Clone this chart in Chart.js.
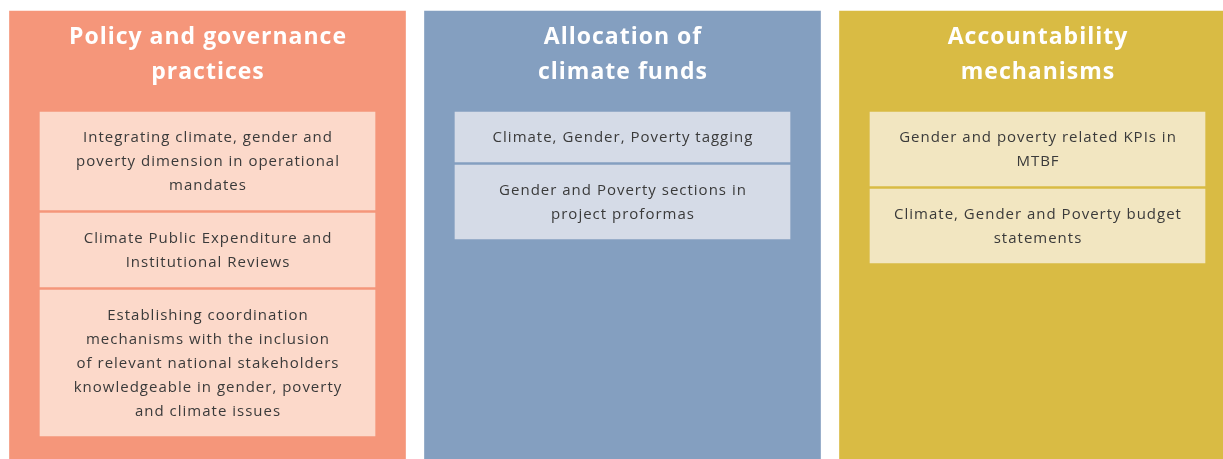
<!DOCTYPE html>
<html>
<head>
<meta charset="utf-8">
<script src="https://cdn.jsdelivr.net/npm/chart.js@4.4.1/dist/chart.umd.min.js"></script>
<style>
    html, body { margin: 0; padding: 0; background: #ffffff; overflow: hidden; }
    #wrap { width: 1245px; height: 459px; position: relative; }
</style>
</head>
<body>
<div id="wrap"><canvas id="frameChart"></canvas></div>
<script>
// pillars (columns) and the items listed under each one
const pillarTitles = [
    ["Policy and governance", "practices"],
    ["Allocation of", "climate funds"],
    ["Accountability", "mechanisms"]
];
const pillarItems = [
    [
        ["Integrating climate, gender and", "poverty dimension in operational", "mandates"],
        ["Climate Public Expenditure and", "Institutional Reviews"],
        ["Establishing coordination", "mechanisms with the inclusion", "of relevant national stakeholders", "knowledgeable in gender, poverty", "and climate issues"]
    ],
    [
        ["Climate, Gender, Poverty tagging"],
        ["Gender and Poverty sections in", "project proformas"]
    ],
    [
        ["Gender and poverty related KPIs in", "MTBF"],
        ["Climate, Gender and Poverty budget", "statements"]
    ]
];
const pillarColors = ["#f5967a", "#849fc0", "#d9bb44"];
const itemColors = ["#fcd9ca", "#d5dbe7", "#f2e6c1"];

const panelTop = 11;
const panelBottom = 460;
const itemsTop = 112;
const lineH = 24;
const boxPad = 26;
const boxGap = 3;

document.addEventListener("DOMContentLoaded", function()
{
    const labels = pillarTitles.map(function(t) { return t.join(" "); });

    // panel rectangles
    const datasets = [
        {
            label: "panel",
            data: labels.map(function() { return [panelTop, panelBottom]; }),
            backgroundColor: pillarColors,
            barThickness: 396,
            grouped: false,
            order: 2
        }
    ];

    // item boxes stacked downward, height from number of text lines
    const maxItems = Math.max.apply(null, pillarItems.map(function(p) { return p.length; }));
    const boxRanges = pillarItems.map(function(items)
    {
        let y = itemsTop;
        return items.map(function(lines)
        {
            const h = lines.length * lineH + boxPad;
            const r = [y, y + h];
            y += h + boxGap;
            return r;
        });
    });
    for (let k = 0; k < maxItems; k++)
    {
        datasets.push({
            label: "item" + k,
            data: boxRanges.map(function(r) { return r[k] || null; }),
            backgroundColor: itemColors,
            barThickness: 335,
            grouped: false,
            order: 1
        });
    }

    const textPlugin = {
        id: "panelText",
        afterDatasetsDraw: function(chart)
        {
            const ctx = chart.ctx;
            ctx.save();
            ctx.textAlign = "center";
            ctx.textBaseline = "alphabetic";

            const panelMeta = chart.getDatasetMeta(0);
            panelMeta.data.forEach(function(el, i)
            {
                const top = Math.min(el.y, el.base);
                ctx.fillStyle = "#ffffff";
                ctx.font = "bold 23px 'Open Sans', sans-serif";
                ctx.letterSpacing = "1px";
                pillarTitles[i].forEach(function(line, j)
                {
                    ctx.fillText(line, el.x + 0.5, top + 33 + j * 35);
                });
            });

            ctx.fillStyle = "#3a3a3a";
            ctx.font = "15px 'Open Sans', sans-serif";
            ctx.letterSpacing = "1px";
            for (let k = 0; k < maxItems; k++)
            {
                const meta = chart.getDatasetMeta(k + 1);
                meta.data.forEach(function(el, i)
                {
                    const lines = pillarItems[i][k];
                    if (!lines) return;
                    const top = Math.min(el.y, el.base);
                    const bottom = Math.max(el.y, el.base);
                    const mid = (top + bottom) / 2;
                    const first = mid - (lines.length - 1) * lineH / 2 + 5;
                    lines.forEach(function(line, j)
                    {
                        ctx.fillText(line, el.x + 0.5, first + j * lineH);
                    });
                });
            }
            ctx.restore();
        }
    };

    new Chart(document.getElementById("frameChart").getContext("2d"),
    {
        type: "bar",
        data: { labels: labels, datasets: datasets },
        options:
        {
            responsive: true,
            maintainAspectRatio: false,
            animation: false,
            layout: { padding: 0 },
            plugins:
            {
                legend: { display: false },
                tooltip: { enabled: false },
                title: { display: false }
            },
            scales:
            {
                x: { display: false, offset: true },
                y: { display: false, reverse: true, min: 0, max: 459 }
            }
        },
        plugins: [textPlugin]
    });
});
</script>
</body>
</html>
